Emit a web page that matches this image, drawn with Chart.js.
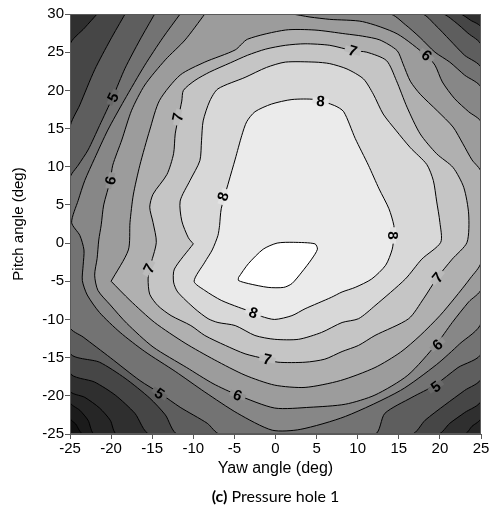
<!DOCTYPE html>
<html>
<head>
<meta charset="utf-8">
<script src="https://cdn.jsdelivr.net/npm/chart.js@4.4.0/dist/chart.umd.min.js"></script>
<style>
  html, body { margin: 0; padding: 0; background: #fff; }
</style>
</head>
<body>
<canvas id="chart" width="495" height="511"></canvas>
<script>
// contour levels and the grey of each band (index 0 = below the first level)
const levels = [2.5, 3, 3.5, 4, 4.5, 5, 5.5, 6, 6.5, 7, 7.5, 8, 8.5];
const bandColors = ['#111111', '#1b1b1b', '#262626', '#2f2f2f', '#464646', '#5e5e5e', '#737373',
                    '#878787', '#9c9c9c', '#b0b0b0', '#c5c5c5', '#d8d8d8', '#ebebeb', '#ffffff'];

// region above each level, [yaw, pitch]
const contour25 = [[-25,30],[25,30],[25,-25],[-23.4,-25],[-24.3,-23.7],[-25,-22.9]];
const contour30 = [[-25,30],[25,30],[25,-25],[-22.0,-25],[-22.8,-23.2],[-23.8,-21.9],[-25,-20.8]];
const contour35 = [[-25,30],[25,30],[25,-22.9],[23.9,-24.0],[23.0,-25],[-19.3,-25],[-20.1,-23.2],
                   [-21.4,-21.6],[-23.2,-20.2],[-25,-19.3]];
const contour40 = [[-21.7,30],[22.4,30],[23.7,29.2],[25,28.2],[25,-20.6],[23.0,-22.2],[21.2,-23.6],
                   [19.8,-25],[-15.3,-25],[-17.1,-22.3],[-19.5,-19.9],[-22.0,-18.2],[-25,-16.9],
                   [-25,25.9],[-23.2,28.2]];
const contour45 = [[-18.3,30],[20.3,30],[21.8,29.0],[23.4,27.5],[25,25.9],[25,-17.7],[23.0,-19.3],
                   [20.6,-21.2],[18.2,-23.2],[16.6,-25],[-11.9,-25],[-13.4,-22.5],[-15.3,-20.3],
                   [-18.3,-17.7],[-21.4,-15.6],[-25,-14.3],[-25,15.1],[-23.8,18.1],[-22.0,22.7],
                   [-20.1,26.6]];
const contour50 = [[-14.7,30],[17.8,30],[19.4,28.6],[21.2,26.6],[23.0,24.6],[25,22.9],[25,-14.4],
                   [22.2,-16.3],[19.4,-18.6],[16.6,-20.2],[13.3,-22.3],[12.1,-25],[-6.8,-25],
                   [-8.3,-23.6],[-11.6,-21.5],[-14.0,-19.7],[-16.5,-18.0],[-20.1,-15.0],[-23.4,-12.3],
                   [-25,-11.0],[-25,8.5],[-24.0,10.2],[-22.8,12.2],[-21.4,15.4],[-19.8,19.1],
                   [-18.3,22.9],[-16.5,26.6]];
const contour55 = [[-11.6,30],[13.9,30],[15.8,28.6],[17.6,26.9],[19.4,25.0],[21.2,23.7],[23.0,22.0],
                   [25,20.3],[25,-10.4],[22.4,-13.2],[19.6,-15.9],[15.2,-19.3],[8.5,-22.7],[3.0,-24.4],
                   [-0.4,-24.5],[-4.6,-22.3],[-8.6,-19.5],[-12.2,-16.8],[-15.9,-14.2],[-18.9,-11.7],
                   [-21.4,-9.1],[-22.9,-6.8],[-23.5,-4.9],[-23.4,-2.9],[-23.3,-0.9],[-23.8,1.0],
                   [-24.8,2.7],[-24.0,5.6],[-23.2,8.2],[-22.0,11.1],[-20.4,14.8],[-18.4,18.7],
                   [-15.9,23.3],[-13.7,26.9]];
const contour60 = [[-8.6,30],[1.8,30],[4.2,29.6],[6.6,29.3],[10.6,29.0],[14.8,27.4],[18.4,24.5],
                   [19.4,23.3],[20.3,21.1],[21.8,18.9],[23.5,17.2],[25,15.8],[25,-6.0],[23.5,-7.7],
                   [21.5,-10.4],[19.6,-13.2],[16.1,-17.3],[12.1,-19.9],[8.5,-21.1],[4.2,-21.5],
                   [-0.1,-21.6],[-4.6,-19.9],[-7.6,-18.4],[-10.8,-16.3],[-14.9,-13.6],[-18.1,-10.5],
                   [-20.1,-8.1],[-21.6,-6.2],[-22.0,-4.2],[-21.7,-2.0],[-21.5,0.4],[-21.2,2.4],
                   [-20.9,5.0],[-20.1,8.2],[-19.8,10.2],[-18.7,13.5],[-17.5,17.4],[-15.9,20.7],
                   [-13.4,24.0],[-11.0,26.6]];
const contour65 = [[-20.0,-5.0],[-17.9,-0.9],[-17.7,2.7],[-17.3,6.3],[-16.5,10.2],[-15.3,14.8],
                   [-14.1,18.7],[-11.6,22.0],[-8.6,23.7],[-4.9,25.3],[-3.4,26.7],[1.2,27.9],[4.8,27.9],
                   [8.5,27.4],[10.6,27.1],[12.7,26.6],[14.8,25.2],[15.5,23.5],[16.4,21.2],[17.6,19.5],
                   [19.7,17.3],[21.6,15.2],[22.8,13.0],[23.9,10.9],[25,9.3],[25,-2.5],[23.7,-4.6],
                   [21.8,-7.2],[20.0,-9.5],[17.6,-12.1],[15.2,-14.3],[12.1,-16.3],[7.9,-18.0],
                   [3.6,-18.9],[-0.1,-18.6],[-3.7,-17.3],[-7.4,-15.3],[-11.0,-13.1],[-14.7,-10.4],
                   [-17.7,-7.5]];
const contour70 = [[-15.3,-3.2],[-14.5,0.1],[-14.9,2.7],[-15.3,4.7],[-14.9,6.4],[-13.2,9.0],
                   [-12.4,11.7],[-12.2,14.3],[-11.8,16.5],[-11.4,18.6],[-11.2,20.0],[-9.8,21.3],
                   [-8.0,22.4],[-5.5,23.6],[-3.4,24.6],[-1.2,25.4],[1.2,25.9],[3.6,26.1],[6.6,25.9],
                   [9.4,25.2],[11.1,25.0],[13.5,23.9],[14.7,21.3],[16.0,17.8],[17.6,14.3],[19.6,11.7],
                   [21.6,9.9],[22.9,7.3],[23.5,3.8],[23.3,0.1],[21.5,-2.1],[19.7,-4.5],[18.0,-7.3],
                   [16.2,-9.9],[12.1,-12.1],[10.1,-13.4],[8.1,-14.2],[6.0,-15.2],[3.6,-15.6],
                   [0.3,-15.6],[-1.1,-15.2],[-3.7,-14.5],[-6.1,-13.4],[-8.6,-12.1],[-10.3,-10.8],
                   [-12.7,-9.5],[-14.3,-8.2],[-15.3,-6.7],[-15.5,-4.7]];
const contour75 = [[-10.0,-0.1],[-10.6,0.7],[-11.4,2.9],[-11.6,5.5],[-10.4,8.2],[-9.2,10.8],
                   [-9.0,13.4],[-8.8,16.0],[-8.0,18.6],[-7.0,20.2],[-3.7,21.7],[-1.1,23.0],[1.2,23.7],
                   [4.8,23.7],[6.6,23.5],[8.7,22.8],[10.7,21.5],[11.9,19.5],[13.1,16.9],[14.7,14.7],
                   [16.4,12.5],[18.4,10.3],[19.2,8.2],[19.6,5.5],[20.0,2.7],[20.1,0.1],[17.8,-2.1],
                   [15.8,-4.7],[12.1,-8.2],[10.1,-9.9],[8.1,-10.4],[5.6,-11.7],[2.8,-12.6],
                   [-0.1,-12.6],[-2.5,-12.1],[-4.9,-10.8],[-7.0,-10.4],[-8.2,-9.9],[-9.8,-8.6],
                   [-11.9,-6.4],[-12.4,-5.1],[-12.3,-3.4]];
const contour80 = [[-6.8,2.3],[-6.6,4.5],[-5.7,8.0],[-4.9,11.0],[-4.1,14.1],[-3.5,15.9],[-2.5,17.2],
                   [-0.5,18.2],[2.0,18.8],[4.8,18.8],[7.2,18.0],[8.3,17.2],[9.7,13.7],[11.3,10.2],
                   [12.6,7.1],[13.8,4.5],[14.4,2.3],[14.4,1.0],[14.2,-0.8],[13.4,-2.9],[11.7,-4.7],
                   [9.7,-5.8],[8.1,-6.4],[6.8,-7.1],[3.6,-8.6],[2.0,-9.5],[-0.1,-10.0],[-1.7,-9.6],
                   [-2.7,-9.1],[-4.5,-8.4],[-6.6,-7.5],[-8.6,-6.2],[-9.9,-5.0],[-8.6,-2.5],
                   [-7.7,-0.9],[-7.0,1.0]];
const contour85 = [[-4.5,-4.5],[-3.3,-2.7],[-1.5,-0.8],[0.2,0.0],[2.2,0.1],[4.8,-0.1],[5.1,-0.8],
                   [4.4,-2.1],[3.2,-3.8],[2.0,-5.3],[1.0,-5.8],[-0.9,-5.8],[-3.3,-5.3],[-4.5,-4.9]];

// inline contour labels
const labelText  = ['5', '6', '7', '8', '8', '7', '6', '8', '7', '8', '7', '6', '6', '5', '5', '7'];
const labelX     = [-19.8, -20.1, -11.9, -6.4, 5.5, 9.4, 18.4, 14.3, 19.7, -2.7, -1.0, -4.6, 19.7, -14.1, 19.5, -15.4];
const labelY     = [19.1, 8.2, 16.5, 6.1, 18.6, 25.2, 24.6, 1.0, -4.5, -9.1, -15.2, -19.9, -13.3, -19.7, -18.8, -3.3];
const labelAngle = [-65, -75, -78, -72, 5, 18, 40, 90, -50, 20, 12, 20, -40, 35, -35, -62];

const contours = [contour25, contour30, contour35, contour40, contour45, contour50, contour55,
                  contour60, contour65, contour70, contour75, contour80, contour85];

function mixHex(a, b) {
    const pa = parseInt(a.slice(1), 16), pb = parseInt(b.slice(1), 16);
    const ch = s => Math.round((((pa >> s) & 255) + ((pb >> s) & 255)) / 2);
    return `rgb(${ch(16)},${ch(8)},${ch(0)})`;
}

const datasets = contours.map((pts, i) => ({
    data: pts.concat([pts[0]]).map(p => ({ x: p[0], y: p[1] })),
    fill: 'shape',
    backgroundColor: bandColors[i + 1],
    borderColor: '#000',
    borderWidth: 1,
    pointRadius: 0,
    tension: 0.25,
    clip: 0,
    order: contours.length - i
}));

// dark background of the lowest band + frame, labels and caption
const contourPlugin = {
    id: 'contourExtras',
    beforeDatasetsDraw(chart) {
        const { ctx, chartArea: a } = chart;
        ctx.save();
        ctx.fillStyle = bandColors[0];
        ctx.fillRect(a.left, a.top, a.right - a.left, a.bottom - a.top);
        ctx.restore();
    },
    afterDatasetsDraw(chart) {
        const { ctx, chartArea: a, scales: { x, y } } = chart;
        ctx.save();
        ctx.font = 'bold 15px Arial, "Liberation Sans", sans-serif';
        ctx.textAlign = 'center';
        ctx.textBaseline = 'middle';
        labelText.forEach((t, i) => {
            const px = x.getPixelForValue(labelX[i]);
            const py = y.getPixelForValue(labelY[i]);
            const lv = levels.indexOf(Number(t));
            ctx.save();
            ctx.translate(px, py);
            ctx.rotate(labelAngle[i] * Math.PI / 180);
            const w = ctx.measureText(t).width + 8;
            ctx.fillStyle = mixHex(bandColors[lv], bandColors[lv + 1]);
            ctx.fillRect(-w / 2, -3, w, 6);
            ctx.fillStyle = '#000';
            ctx.fillText(t, 0, 1);
            ctx.restore();
        });
        ctx.strokeStyle = '#5a5a5a';
        ctx.lineWidth = 1;
        ctx.strokeRect(a.left + 0.5, a.top + 0.5, a.right - a.left - 1, a.bottom - a.top - 1);
        ctx.restore();
    },
    afterDraw(chart) {
        const { ctx, chartArea: a } = chart;
        const bold = '(c)', rest = ' Pressure hole 1';
        ctx.save();
        ctx.textBaseline = 'middle';
        ctx.fillStyle = '#000';
        ctx.font = 'bold 16px Lato, "Open Sans", sans-serif';
        const wb = ctx.measureText(bold).width;
        ctx.font = '16px Lato, "Open Sans", sans-serif';
        const wr = ctx.measureText(rest).width;
        const x0 = (a.left + a.right) / 2 - (wb + wr) / 2;
        ctx.font = 'bold 16px Lato, "Open Sans", sans-serif';
        ctx.fillText(bold, x0, chart.height - 14);
        ctx.font = '16px Lato, "Open Sans", sans-serif';
        ctx.fillText(rest, x0 + wb, chart.height - 14);
        ctx.restore();
    }
};

Chart.defaults.font.family = 'Arial, "Liberation Sans", sans-serif';
Chart.defaults.color = '#000';

new Chart(document.getElementById('chart'), {
    type: 'line',
    data: { datasets },
    options: {
        responsive: false,
        animation: false,
        layout: { padding: { top: 14, right: 14, bottom: 27, left: 0 } },
        plugins: { legend: { display: false }, tooltip: { enabled: false } },
        scales: {
            x: {
                type: 'linear', min: -25, max: 25,
                afterFit: s => { s.height = 50; },
                ticks: { stepSize: 5, font: { size: 15 }, padding: 1, maxRotation: 0 },
                grid: { drawOnChartArea: false, tickLength: 5, color: '#5a5a5a' },
                border: { color: '#5a5a5a' },
                title: { display: true, text: 'Yaw angle (deg)', font: { size: 16 }, padding: { top: 0, bottom: 6 } }
            },
            y: {
                type: 'linear', min: -25, max: 30,
                afterFit: s => { s.width = 70; },
                ticks: { stepSize: 5, font: { size: 15 }, padding: 1 },
                grid: { drawOnChartArea: false, tickLength: 5, color: '#5a5a5a' },
                border: { color: '#5a5a5a' },
                title: { display: true, text: 'Pitch angle (deg)', font: { size: 15 }, padding: { top: 10, bottom: 0 } }
            }
        }
    },
    plugins: [contourPlugin]
});
</script>
</body>
</html>
